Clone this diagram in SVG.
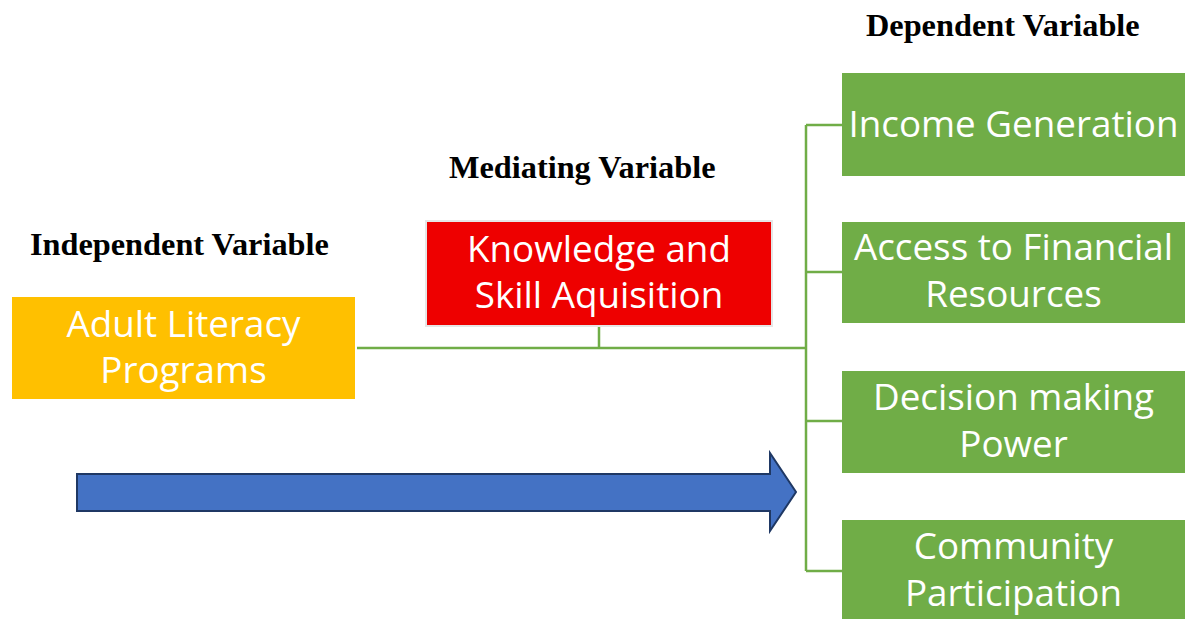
<svg xmlns="http://www.w3.org/2000/svg" width="1187" height="619" viewBox="0 0 1187 619">
<style>
.hdr{font-family:"Liberation Serif","Times New Roman",serif;font-weight:bold;font-size:32.3px;fill:#000}
.lbl{font-family:"Open Sans","Noto Sans",sans-serif;font-size:36.8px;fill:#fff;text-anchor:middle}
.conn{stroke:#70AD47;stroke-width:2.5;fill:none}
.dep{fill:#70AD47}
</style>
<rect width="1187" height="619" fill="#fff"/>
<text class="hdr" x="30" y="255">Independent Variable</text>
<text class="hdr" x="449" y="178">Mediating Variable</text>
<text class="hdr" x="866" y="36">Dependent Variable</text>
<g id="connectors">
<path class="conn" d="M357 348H806M599 326V348M806 125V571M806 125H842M806 272H842M806 421H842M806 571H842"/>
</g>
<g id="independent">
<rect x="12" y="297" width="343" height="102" fill="#FFC000"/>
<text class="lbl" x="183.5" y="337">Adult Literacy</text>
<text class="lbl" x="183.5" y="383">Programs</text>
</g>
<g id="mediating">
<rect x="426" y="221" width="346" height="105" fill="#EE0000" stroke="#E6E6E6" stroke-width="2"/>
<text class="lbl" x="599" y="262">Knowledge and</text>
<text class="lbl" x="599" y="308">Skill Aquisition</text>
</g>
<g id="income">
<rect class="dep" x="842" y="73" width="343" height="103"/>
<text class="lbl" x="1013.5" y="137">Income Generation</text>
</g>
<g id="finance">
<rect class="dep" x="842" y="222" width="343" height="101"/>
<text class="lbl" x="1013.5" y="260">Access to Financial</text>
<text class="lbl" x="1013.5" y="307">Resources</text>
</g>
<g id="decision">
<rect class="dep" x="842" y="371" width="343" height="102"/>
<text class="lbl" x="1013.5" y="410">Decision making</text>
<text class="lbl" x="1013.5" y="457">Power</text>
</g>
<g id="community">
<rect class="dep" x="842" y="520" width="343" height="102"/>
<text class="lbl" x="1013.5" y="559">Community</text>
<text class="lbl" x="1013.5" y="606">Participation</text>
</g>
<g id="arrow">
<path d="M77 474H770V453L796 492L770 531V511H77Z" fill="#4472C4" stroke="#1F3864" stroke-width="2" stroke-linejoin="miter"/>
</g>
</svg>
